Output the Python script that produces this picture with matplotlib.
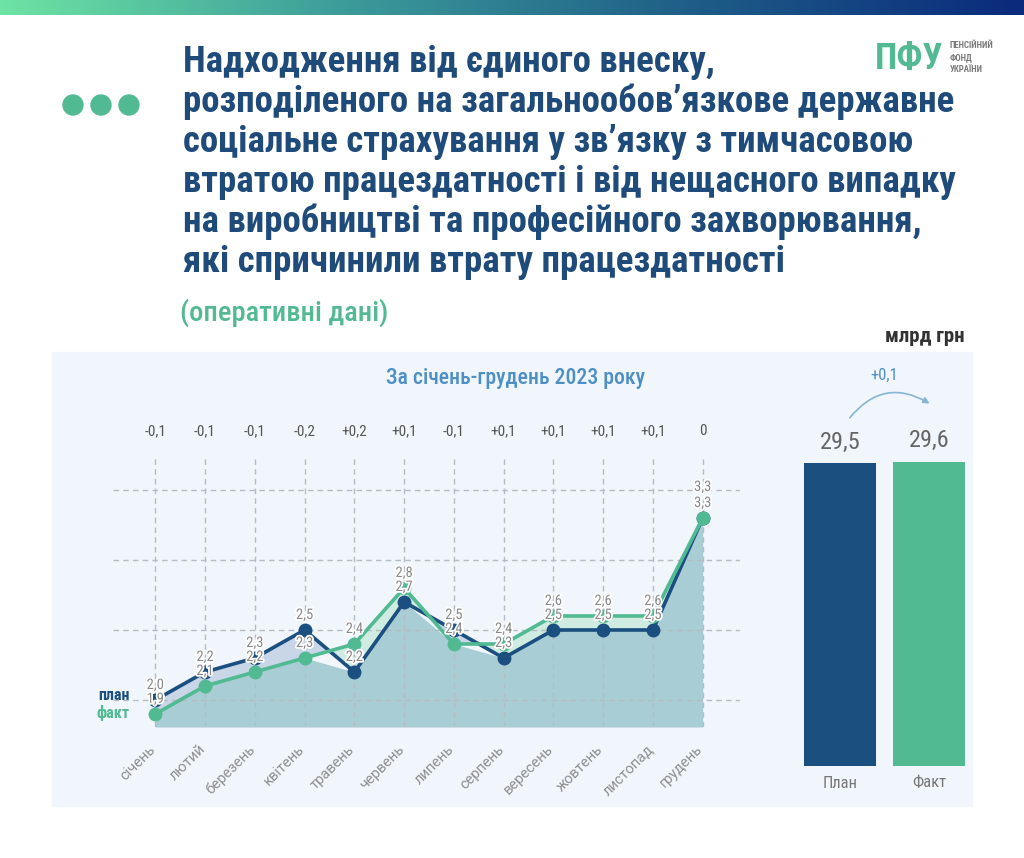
import numpy as np
import matplotlib
matplotlib.use('Agg')
import matplotlib.pyplot as plt
import matplotlib.patheffects as pe
from matplotlib.patches import Rectangle, Circle, FancyArrowPatch
from matplotlib.colors import LinearSegmentedColormap

plt.rcParams['font.family'] = ['Roboto Condensed', 'DejaVu Sans']

# дані з графіка
months = ['січень', 'лютий', 'березень', 'квітень', 'травень', 'червень',
          'липень', 'серпень', 'вересень', 'жовтень', 'листопад', 'грудень']
plan = [2.0, 2.2, 2.3, 2.5, 2.2, 2.7, 2.5, 2.3, 2.5, 2.5, 2.5, 3.3]
fact = [1.9, 2.1, 2.2, 2.3, 2.4, 2.8, 2.4, 2.4, 2.6, 2.6, 2.6, 3.3]
total_names = ['План', 'Факт']
totals = [29.5, 29.6]

title_lines = ['Надходження від єдиного внеску,',
               'розподіленого на загальнообов’язкове державне',
               'соціальне страхування у зв’язку з тимчасовою',
               'втратою працездатності і від нещасного випадку',
               'на виробництві та професійного захворювання,',
               'які спричинили втрату працездатності']
subtitle = '(оперативні дані)'
period = 'За січень-грудень 2023 року'
unit = 'млрд грн'

DARK = '#1b4f80'
GREEN = '#52ba92'
TITLE = '#1f4b7b'
GREY = '#8a8a8a'

W, H = 1024, 858
fig = plt.figure(figsize=(W / 100, H / 100), dpi=100, facecolor='white')

# фонова вісь у пікселях
bg = fig.add_axes([0, 0, 1, 1])
grad = np.linspace(0, 1, 256).reshape(1, -1)
cmap = LinearSegmentedColormap.from_list('top', ['#6de3a4', '#3c9c9a', '#1f5f88', '#0a2a7c'])
bg.imshow(grad, cmap=cmap, aspect='auto', extent=(0, W, 15, 0))
bg.set_xlim(0, W)
bg.set_ylim(H, 0)
bg.axis('off')

bg.add_patch(Rectangle((52, 352), 920, 454, color='#f0f6fc', zorder=0))

for cx in [73, 101, 129]:
    bg.add_patch(Circle((cx, 105), 10, color=GREEN))

renderer = fig.canvas.get_renderer()


def fit(t, width):
    t.set_fontsize(t.get_fontsize() * width / t.get_window_extent(renderer).width)


# заголовок
t_lines = []
for i, line in enumerate(title_lines):
    t = bg.text(183, 62 + i * 40, line, fontsize=21, fontweight='bold',
                color=TITLE, va='center')
    t_lines.append(t)
w2 = t_lines[1].get_window_extent(renderer).width
for t in t_lines:
    t.set_fontsize(21 * 772 / w2)

st = bg.text(180, 313, subtitle, fontsize=18, color=GREEN, va='center', fontweight='medium')
fit(st, 208)

# логотип
lg = bg.text(875, 59, 'ПФУ', fontsize=30, fontweight='heavy', color=GREEN, va='center')
fit(lg, 68)
for i, s in enumerate(['ПЕНСІЙНИЙ', 'ФОНД', 'УКРАЇНИ']):
    bg.text(950, 46 + i * 12, s, fontsize=6.3, fontweight='bold', color='#7a7a7a', va='center')

pt = bg.text(515, 378, period, ha='center', va='center', color='#4e8fc6', fontsize=16,
             fontweight='medium')
fit(pt, 260)
bg.text(130, 695, 'план', ha='right', va='center', color=DARK, fontweight='bold', fontsize=11.5)
bg.text(130, 713, 'факт', ha='right', va='center', color=GREEN, fontweight='bold', fontsize=11.5)
un = bg.text(965, 337, unit, ha='right', va='center', color='#333333', fontweight='bold', fontsize=14)
fit(un, 80)

# лінійний графік
ymin = 1.807
ax = fig.add_axes([113 / W, 1 - 727 / H, (740 - 113) / W, (727 - 455) / H])
ax.patch.set_alpha(0)
x = np.arange(len(months))
p = np.array(plan)
f = np.array(fact)
ax.fill_between(x, ymin, np.minimum(p, f), color='#a9cdd4', lw=0, zorder=1)
ax.fill_between(x, p, f, where=p >= f, interpolate=True, color='#c8d6e8', lw=0, zorder=1)
ax.fill_between(x, p, f, where=f >= p, interpolate=True, color='#d0ebe1', lw=0, zorder=1)
ax.plot(x, plan, color=DARK, lw=2.6, marker='o', ms=9, zorder=4)
ax.plot(x, fact, color=GREEN, lw=2.6, marker='o', ms=9, zorder=5)

ax.set_xlim(-0.85, 11.75)
ax.set_ylim(ymin, 3.75)
ax.set_yticks([2.0, 2.5, 3.0, 3.5])
# великі поділки - для сітки, малі - для підписів місяців (трохи лівіше)
ax.set_xticks(x)
ax.set_xticklabels([])
ax.set_xticks(x - 0.14, minor=True)
ax.set_xticklabels(months, minor=True, rotation=45, ha='right', va='top',
                   rotation_mode='anchor', color='#8f8f8f', fontsize=10.5, family='Roboto')
ax.tick_params(which='both', length=0, pad=11, labelleft=False)
ax.set_axisbelow(False)
ax.grid(True, which='major', ls=(0, (4, 3)), color='#b5bcc3', lw=1)
for s in ax.spines.values():
    s.set_visible(False)

fmt = lambda v: f'{v:.1f}'.replace('.', ',')
halo = [pe.withStroke(linewidth=2.5, foreground='white')]
for i in range(len(months)):
    off_p = 31 if plan[i] == fact[i] else 15
    ax.annotate(fmt(plan[i]), (i, plan[i]), xytext=(0, off_p), textcoords='offset pixels',
                ha='center', va='center', color=GREY, fontsize=10.5, path_effects=halo, zorder=6)
    ax.annotate(fmt(fact[i]), (i, fact[i]), xytext=(0, 15), textcoords='offset pixels',
                ha='center', va='center', color=GREY, fontsize=10.5, path_effects=halo, zorder=6)
    d = round(fact[i] - plan[i], 1)
    dl = '0' if d == 0 else ('+' if d > 0 else '-') + fmt(abs(d))
    ax.text(i, 1.088, dl, transform=ax.get_xaxis_transform(), ha='center', va='center',
            color='#555555', fontsize=11)

# стовпчики
bx = fig.add_axes([778 / W, 1 - 766 / H, 213 / W, (766 - 406.5) / H])
bx.patch.set_alpha(0)
bx.bar([0, 1], totals, width=0.81, color=[DARK, GREEN])
bx.set_xlim(-0.7, 1.7)
bx.set_ylim(0, 35)
bx.axis('off')
for i, v in enumerate(totals):
    bx.annotate(fmt(v), (i, v), xytext=(0, 21), textcoords='offset pixels',
                ha='center', va='center', color='#666666', fontsize=17.5)
    bx.annotate(total_names[i], (i, 0), xytext=(0, -17), textcoords='offset pixels',
                ha='center', va='center', color='#777777', fontsize=12)

d_tot = round(totals[1] - totals[0], 1)
bg.text(884, 375, ('+' if d_tot > 0 else '') + fmt(d_tot), ha='center', va='center',
        color='#4e8fc6', fontsize=12)
bg.add_patch(FancyArrowPatch((848, 420), (932, 405), connectionstyle='arc3,rad=-0.45',
                             arrowstyle='-|>', mutation_scale=9, color='#86b6d4', lw=1.2))

fig.savefig('out.png', dpi=100)
